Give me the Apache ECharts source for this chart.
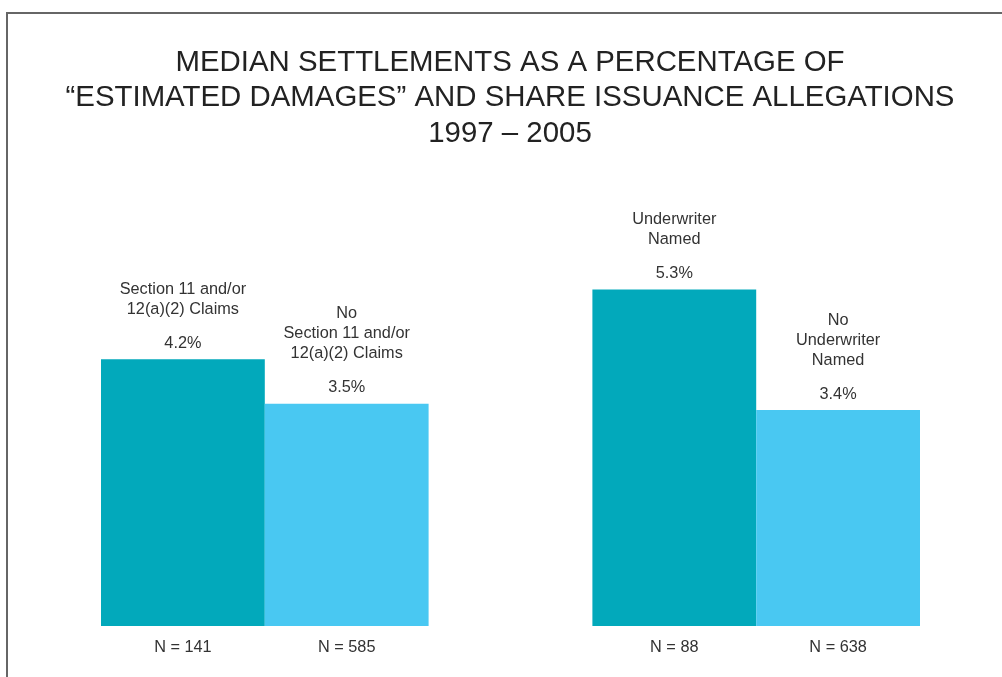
<!DOCTYPE html>
<html>
<head>
<meta charset="utf-8">
<script src="https://cdn.jsdelivr.net/npm/echarts@6/dist/echarts.min.js"></script>
<style>
html,body{margin:0;padding:0;background:#fff;}
#chart{width:1002px;height:677px;}
</style>
</head>
<body>
<div id="chart"></div>
<script>
var categories = ['N = 141', 'N = 585', '', 'N = 88', 'N = 638'];
var groupNames = ['Section 11 and/or\n12(a)(2) Claims', 'No\nSection 11 and/or\n12(a)(2) Claims', '', 'Underwriter\nNamed', 'No\nUnderwriter\nNamed'];
var values = [4.2, 3.5, null, 5.3, 3.4];
var barColors = ['#02A9BB', '#49C8F2', '#ffffff', '#02A9BB', '#49C8F2'];
var titleText = 'MEDIAN SETTLEMENTS AS A PERCENTAGE OF\n\u201CESTIMATED DAMAGES\u201D AND SHARE ISSUANCE ALLEGATIONS\n1997 \u2013 2005';

var FONT = 'Arial';

var seriesData = values.map(function (v, i) {
  return {
    value: v,
    name: groupNames[i],
    itemStyle: { color: barColors[i] }
  };
});

var chart = echarts.init(document.getElementById('chart'));
chart.setOption({
  backgroundColor: '#ffffff',
  animation: false,
  textStyle: { fontFamily: FONT },
  title: {
    text: titleText,
    left: 505,
    textAlign: 'center',
    top: 40,
    textStyle: {
      fontFamily: FONT,
      fontSize: 29.4,
      fontWeight: 'normal',
      color: '#222222',
      lineHeight: 35.5
    }
  },
  graphic: [{
    type: 'rect',
    shape: { x: 7, y: 13, width: 1100, height: 800 },
    style: { fill: 'none', stroke: '#666666', lineWidth: 2 },
    silent: true
  }],
  grid: { left: 101, right: 82, top: 118, bottom: 51 },
  xAxis: {
    type: 'category',
    data: categories,
    axisLine: { show: false },
    axisTick: { show: false },
    axisLabel: {
      margin: 14,
      fontFamily: FONT,
      fontSize: 16.3,
      color: '#333333'
    }
  },
  yAxis: {
    type: 'value',
    min: 0,
    max: 8,
    show: false,
    splitLine: { show: false }
  },
  series: [{
    type: 'bar',
    barWidth: '100%',
    barGap: '0%',
    data: seriesData,
    label: {
      show: true,
      position: 'top',
      distance: 6,
      align: 'center',
      formatter: function (p) {
        if (p.value == null) return '';
        var lines = p.name.split('\n').map(function (s) { return '{n|' + s + '}'; });
        return lines.join('\n') + '\n{s| }\n{v|' + p.value.toFixed(1) + '%}';
      },
      rich: {
        n: { fontFamily: FONT, fontSize: 16.3, color: '#333333', lineHeight: 20, align: 'center' },
        s: { fontFamily: FONT, fontSize: 6, lineHeight: 14 },
        v: { fontFamily: FONT, fontSize: 16.3, color: '#333333', lineHeight: 20, align: 'center' }
      }
    }
  }]
});
</script>
</body>
</html>
